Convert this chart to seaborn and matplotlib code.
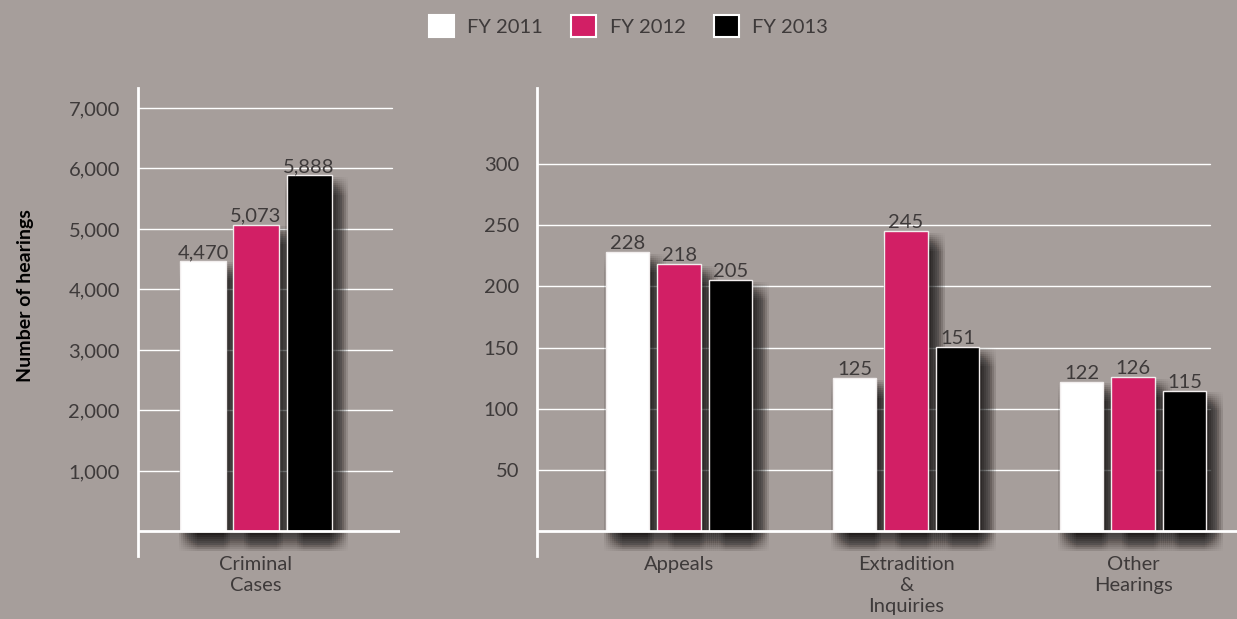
import pandas as pd
import numpy as np
import matplotlib
matplotlib.use("Agg")
import matplotlib.pyplot as plt
import matplotlib.patheffects as pe
from matplotlib.patches import Patch
import seaborn as sns

years = ["FY 2011", "FY 2012", "FY 2013"]
left_categories = ["Criminal\nCases"]
left_values = {"FY 2011": [4470], "FY 2012": [5073], "FY 2013": [5888]}
right_categories = ["Appeals", "Extradition\n&\nInquiries", "Other\nHearings"]
right_values = {"FY 2011": [228, 125, 122], "FY 2012": [218, 245, 126], "FY 2013": [205, 151, 115]}
left_ticks = [1000, 2000, 3000, 4000, 5000, 6000, 7000]
right_ticks = [50, 100, 150, 200, 250, 300]

bg = "#a69e9b"
text_col = "#3e3a3a"
colors = {"FY 2011": "#ffffff", "FY 2012": "#d21f65", "FY 2013": "#000000"}

sns.set_theme(style="white")
plt.rcParams["font.family"] = ["Lato", "DejaVu Sans"]

# soft drop shadow: many offset copies, like a box blur
shadow = []
for dx in np.linspace(-1, 12, 10):
    for dy in np.linspace(1, 14, 10):
        shadow.append(pe.SimplePatchShadow(offset=(dx, -dy), shadow_rgbFace="black", alpha=0.012))
shadow.append(pe.Normal())


def to_frame(categories, values):
    rows = []
    for y in years:
        for c, v in zip(categories, values[y]):
            rows.append({"category": c, "year": y, "hearings": v})
    return pd.DataFrame(rows)


def draw_panel(ax, df, width, gap, ticks, ylim, xlim, grid_end):
    sns.barplot(data=df, x="category", y="hearings", hue="year", palette=colors,
                width=width, gap=gap, ax=ax, legend=False, saturation=1,
                edgecolor="#f2eeee", linewidth=1)
    for p in ax.patches:
        p.set_path_effects(shadow)
    for cont in ax.containers:
        ax.bar_label(cont, labels=[f"{v:,.0f}" for v in cont.datavalues],
                     padding=0, fontsize=14.5, color=text_col)
    ax.set_facecolor(bg)
    ax.set_ylim(*ylim)
    ax.set_xlim(*xlim)
    ax.set_yticks(ticks)
    ax.set_yticklabels([f"{t:,}" for t in ticks])
    for t in ticks:
        ax.axhline(t, xmax=grid_end, color="white", lw=1, zorder=0)
    ax.axhline(0, color="white", lw=2, zorder=5)
    for s in ["top", "right", "bottom"]:
        ax.spines[s].set_visible(False)
    ax.spines["left"].set_color("white")
    ax.spines["left"].set_linewidth(2)
    ax.tick_params(axis="both", length=0, labelsize=14.5, labelcolor=text_col)
    ax.tick_params(axis="y", pad=13)
    ax.tick_params(axis="x", pad=0)
    for lbl in ax.get_xticklabels():
        lbl.set_linespacing(1.3)
    ax.set_xlabel("")
    ax.set_ylabel("")


fig = plt.figure(figsize=(12.37, 6.19), dpi=100)
fig.patch.set_facecolor(bg)

ax1 = fig.add_axes([0.1116, 0.1018, 0.2118, 0.756])
ax2 = fig.add_axes([0.4341, 0.1018, 0.5659, 0.756])

draw_panel(ax1, to_frame(left_categories, left_values), 0.8, 0.15,
           left_ticks, (-405, 7330), (-0.593, 0.724), 0.969)
draw_panel(ax2, to_frame(right_categories, right_values), 0.68, 0.15,
           right_ticks, (-20, 362), (-0.626, 2.458), 0.961)

fig.text(0.021, 0.522, "Number of hearings", rotation=90, ha="center", va="center",
         fontsize=14, fontweight="bold", color="black")

handles = [Patch(facecolor=colors[y], edgecolor="white", linewidth=1.5) for y in years]
fig.legend(handles, years, loc="center", bbox_to_anchor=(0.508, 0.958), ncol=3,
           frameon=False, fontsize=14.5, labelcolor=text_col, handlelength=1.25,
           handleheight=1.25, columnspacing=1.4, handletextpad=0.65)

fig.savefig("out.png", dpi=100, facecolor=bg)
